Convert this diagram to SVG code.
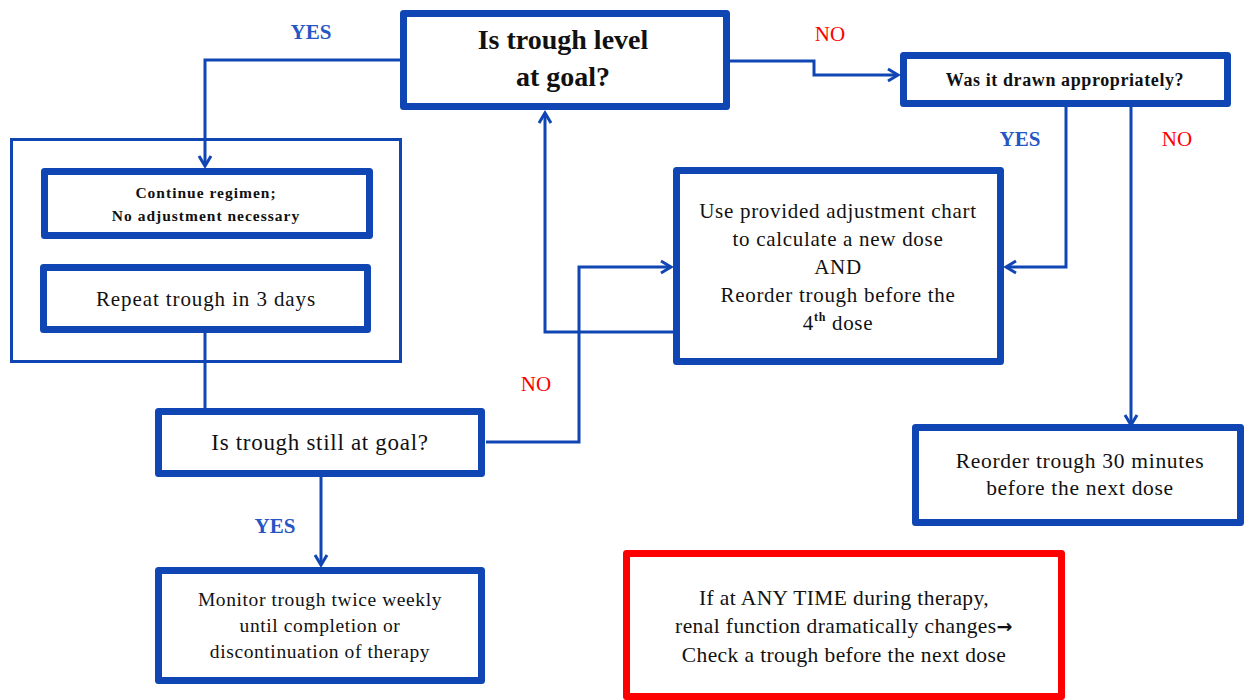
<svg xmlns="http://www.w3.org/2000/svg" width="1250" height="700" viewBox="0 0 1250 700">
<style>
.box{fill:#fff;stroke:#1046b4;stroke-width:7;stroke-linejoin:round}
.thin{fill:none;stroke:#1046b4;stroke-width:3}
.red{fill:#fff;stroke:#ff0000;stroke-width:7;stroke-linejoin:round}
.c{fill:none;stroke:#1046b4;stroke-width:3}
.t{font-family:"Liberation Serif","Times New Roman",serif;fill:#111;text-anchor:middle}
.b{font-weight:bold}
.yes{font-family:"Liberation Serif","Times New Roman",serif;fill:#2656c4;font-size:21px;font-weight:bold;text-anchor:middle}
.no{font-family:"Liberation Serif","Times New Roman",serif;fill:#ff0000;font-size:21px;text-anchor:middle}
</style>
<defs>
<marker id="arr" markerUnits="userSpaceOnUse" markerWidth="16" markerHeight="16" refX="11" refY="7" orient="auto" viewBox="0 0 16 14">
<path d="M1,1 L11,7 L1,13" fill="none" stroke="#1046b4" stroke-width="3"/>
</marker>
</defs>
<rect width="1250" height="700" fill="#fff"/>
<rect class="thin" x="11.5" y="139.5" width="389" height="222"/>
<g id="connectors">
<polyline class="c" points="403,60 205,60 205,166" marker-end="url(#arr)"/>
<polyline class="c" points="730,61 814,61 814,75 898,75" marker-end="url(#arr)"/>
<polyline class="c" points="205,333 205,408"/>
<polyline class="c" points="486,442 579,442 579,267 671,267" marker-end="url(#arr)"/>
<polyline class="c" points="673,332 545,332 545,113" marker-end="url(#arr)"/>
<polyline class="c" points="1066,107 1066,267 1006,267" marker-end="url(#arr)"/>
<polyline class="c" points="1131,107 1131,425" marker-end="url(#arr)"/>
<polyline class="c" points="321,477 321,565" marker-end="url(#arr)"/>
</g>
<g id="labels">
<text class="yes" x="311" y="39">YES</text>
<text class="no" x="830" y="41">NO</text>
<text class="yes" x="1020" y="146">YES</text>
<text class="no" x="1177" y="146">NO</text>
<text class="no" x="536" y="391">NO</text>
<text class="yes" x="275" y="533">YES</text>
</g>
<g id="n-goal">
<rect class="box" x="403.5" y="13.5" width="323" height="93"/>
<text class="t b" x="563" y="49" font-size="28">Is trough level</text>
<text class="t b" x="563" y="86" font-size="28">at goal?</text>
</g>
<g id="n-drawn">
<rect class="box" x="903.5" y="55.5" width="324" height="48"/>
<text class="t b" x="1065" y="86" font-size="18" letter-spacing="0.6">Was it drawn appropriately?</text>
</g>
<g id="n-continue">
<rect class="box" x="44.5" y="171.5" width="325" height="64"/>
<text class="t b" x="206" y="198" font-size="15.5" letter-spacing="1">Continue regimen;</text>
<text class="t b" x="206" y="221" font-size="15.5" letter-spacing="1">No adjustment necessary</text>
</g>
<g id="n-repeat">
<rect class="box" x="43.5" y="267.5" width="324" height="62"/>
<text class="t" x="206" y="306" font-size="21" letter-spacing="0.9">Repeat trough in 3 days</text>
</g>
<g id="n-adjust">
<rect class="box" x="676.5" y="170.5" width="324" height="191"/>
<text class="t" x="838" y="218" font-size="21" letter-spacing="0.7">Use provided adjustment chart</text>
<text class="t" x="838" y="246" font-size="21" letter-spacing="0.7">to calculate a new dose</text>
<text class="t" x="838" y="274" font-size="21" letter-spacing="0.7">AND</text>
<text class="t" x="838" y="302" font-size="21" letter-spacing="0.7">Reorder trough before the</text>
<text class="t" x="838" y="330" font-size="21" letter-spacing="0.7">4<tspan font-size="12" font-weight="bold" dy="-9">th</tspan><tspan dy="9"> dose</tspan></text>
</g>
<g id="n-still">
<rect class="box" x="158.5" y="411.5" width="323" height="62"/>
<text class="t" x="320" y="450" font-size="23" letter-spacing="0.7">Is trough still at goal?</text>
</g>
<g id="n-monitor">
<rect class="box" x="158.5" y="570.5" width="323" height="110"/>
<text class="t" x="320" y="606" font-size="19.5" letter-spacing="0.6">Monitor trough twice weekly</text>
<text class="t" x="320" y="632" font-size="19.5" letter-spacing="0.6">until completion or</text>
<text class="t" x="320" y="658" font-size="19.5" letter-spacing="0.6">discontinuation of therapy</text>
</g>
<g id="n-reorder">
<rect class="box" x="915.5" y="427.5" width="325" height="95"/>
<text class="t" x="1080" y="468" font-size="21.5" letter-spacing="0.7">Reorder trough 30 minutes</text>
<text class="t" x="1080" y="495" font-size="21.5" letter-spacing="0.7">before the next dose</text>
</g>
<g id="n-note">
<rect class="red" x="626.5" y="553.5" width="435" height="143"/>
<text class="t" x="844" y="605" font-size="21.5" letter-spacing="0.4">If at ANY TIME during therapy,</text>
<text class="t" x="844" y="633" font-size="21.5" letter-spacing="0.4">renal function dramatically changes<tspan font-family="DejaVu Sans, sans-serif" font-weight="bold" font-size="19">→</tspan></text>
<text class="t" x="844" y="662" font-size="21.5" letter-spacing="0.4">Check a trough before the next dose</text>
</g>
</svg>
